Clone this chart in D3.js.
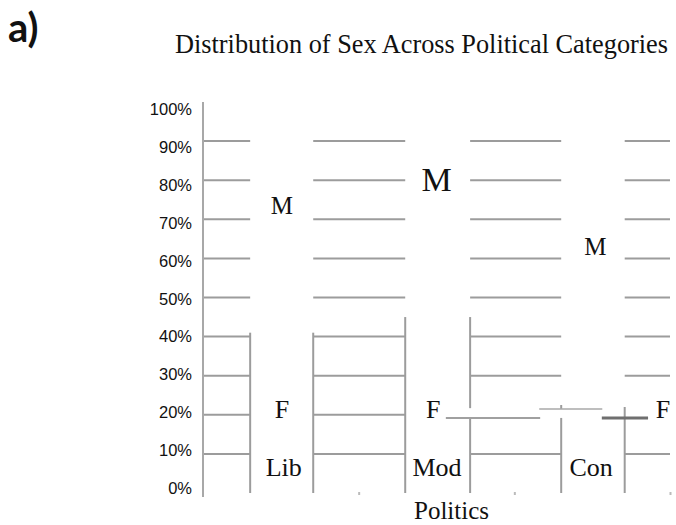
<!DOCTYPE html>
<html>
<head>
<meta charset="utf-8">
<script src="https://cdn.jsdelivr.net/npm/d3@7"></script>
<style>
  html, body { margin: 0; padding: 0; background: #fff; }
  svg { display: block; }
</style>
</head>
<body>
<svg id="chart" width="676" height="525"></svg>
<script>
// ---------------- data ----------------
const categories = ["Lib", "Mod", "Con"];
// mosaic columns (cumulative share on the x axis)
const colLeft  = [0.101, 0.433, 0.767];
const colRight = [0.236, 0.572, 0.903];
// share of each column that is female (left / right border heights)
const femaleLeft  = [0.41, 0.45, 0.192];
const femaleRight = [0.41, 0.45, 0.22];
// extra broken border pieces
const edgeX  = [0.572, 0.767];
const edgeLo = [0.217, 0.215];
const edgeHi = [0.45, 0.225];
// stepped female boundary
const stepStart = [0.520, 0.720, 0.854];
const stepEnd   = [0.722, 0.855, 0.953];
const stepY     = [0.192, 0.215, 0.192];
// labels
const mLabelX = [0.169, 0.500, 0.840];
const mLabelY = [0.735, 0.80, 0.63];
const fLabelX = [0.169, 0.493, 0.985];
const fLabelY = [0.215, 0.215, 0.215];
const catLabelY = [0.065, 0.065, 0.065];
const catLabelX = [0.173, 0.501, 0.831];
const yTicks = [0, 0.1, 0.2, 0.3, 0.4, 0.5, 0.6, 0.7, 0.8, 0.9, 1.0];
const gridTicks = [0.1, 0.2, 0.3, 0.4, 0.5, 0.6, 0.7, 0.8, 0.9];
const gridHidden = [[0.2, 2], [0.2, 3]];
const xTicks = [1/3, 2/3, 1];
const title = "Distribution of Sex Across Political Categories";
const xTitle = "Politics";
const panelTag = "a)";

// ---------------- drawing ----------------
const svg = d3.select("#chart");
const x = d3.scaleLinear().domain([0, 1]).range([203, 670]);
const yGrid = d3.scaleLinear().domain([0, 1]).range([493, 102]);
const yLabel = d3.scaleLinear().domain([0, 1]).range([488, 109.5]);

const gridColor = "#9c9c9c";
const serif = "'Liberation Serif', 'Times New Roman', serif";

// gap segments between columns
const gapStart = [0, ...colRight];
const gapEnd = [...colLeft, 1];

const grid = svg.append("g");
gridTicks.forEach(t => {
  gapStart.forEach((g0, i) => {
    if (gridHidden.some(h => Math.abs(h[0] - t) < 1e-9 && h[1] === i)) return;
    grid.append("line")
      .attr("x1", x(g0)).attr("x2", x(gapEnd[i]))
      .attr("y1", yGrid(t)).attr("y2", yGrid(t))
      .attr("stroke", gridColor).attr("stroke-width", 2);
  });
});

// column borders
const borders = svg.append("g");
categories.forEach((c, i) => {
  borders.append("line")
    .attr("x1", x(colLeft[i])).attr("x2", x(colLeft[i]))
    .attr("y1", yGrid(0)).attr("y2", yGrid(femaleLeft[i]))
    .attr("stroke", gridColor).attr("stroke-width", 2);
  borders.append("line")
    .attr("x1", x(colRight[i])).attr("x2", x(colRight[i]))
    .attr("y1", yGrid(0)).attr("y2", yGrid(i === 1 ? stepY[0] : femaleRight[i]))
    .attr("stroke", gridColor).attr("stroke-width", 2);
});
edgeX.forEach((e, i) => {
  borders.append("line")
    .attr("x1", x(e)).attr("x2", x(e))
    .attr("y1", yGrid(edgeLo[i])).attr("y2", yGrid(edgeHi[i]))
    .attr("stroke", gridColor).attr("stroke-width", 2);
});

// stepped boundary
const stepStyle = [
  { c: "#a0a0a0", w: 2 },
  { c: "#a8a8a8", w: 1.6 },
  { c: "#6f6f6f", w: 3 }
];
stepY.forEach((v, i) => {
  svg.append("line")
    .attr("x1", x(stepStart[i])).attr("x2", x(stepEnd[i]))
    .attr("y1", yGrid(v)).attr("y2", yGrid(v))
    .attr("stroke", stepStyle[i].c).attr("stroke-width", stepStyle[i].w);
});

// y axis line
svg.append("line")
  .attr("x1", x(0)).attr("x2", x(0))
  .attr("y1", yGrid(1)).attr("y2", yGrid(0) + 4)
  .attr("stroke", "#a8a8a8").attr("stroke-width", 2);

// y axis labels
const yAxis = d3.axisLeft(yLabel).tickValues(yTicks).tickSize(0).tickPadding(0)
  .tickFormat(d3.format(".0%"));
const ya = svg.append("g").attr("transform", "translate(192,0)").call(yAxis);
ya.select(".domain").remove();
ya.selectAll("text")
  .attr("font-family", "'Liberation Sans', Arial, sans-serif")
  .attr("font-size", 16.5).attr("fill", "#111");

// x axis small ticks
const xAxis = d3.axisBottom(x).tickValues(xTicks).tickSize(3).tickFormat("");
const xa = svg.append("g").attr("transform", `translate(0,${yGrid(0) - 1})`).call(xAxis);
xa.select(".domain").remove();
xa.selectAll("line").attr("stroke", "#bbbbbb").attr("stroke-width", 2);

// M labels
const mSizes = [25, 34, 25];
mLabelX.forEach((mx, i) => {
  svg.append("text")
    .attr("x", x(mx)).attr("y", yGrid(mLabelY[i]))
    .attr("dy", "0.33em")
    .attr("text-anchor", "middle")
    .attr("font-family", serif).attr("font-size", mSizes[i]).attr("fill", "#111")
    .text("M");
});
// F labels
fLabelX.forEach((fx, i) => {
  svg.append("text")
    .attr("x", x(fx)).attr("y", yGrid(fLabelY[i]))
    .attr("dy", "0.33em")
    .attr("text-anchor", "middle")
    .attr("font-family", serif).attr("font-size", 26).attr("fill", "#111")
    .text("F");
});
// category labels
categories.forEach((c, i) => {
  svg.append("text")
    .attr("x", x(catLabelX[i])).attr("y", yGrid(catLabelY[i]))
    .attr("dy", "0.33em")
    .attr("text-anchor", "middle")
    .attr("font-family", serif).attr("font-size", 26).attr("fill", "#111")
    .text(c);
});

// axis title
svg.append("text")
  .attr("x", 451.5).attr("y", 519)
  .attr("text-anchor", "middle")
  .attr("font-family", serif).attr("font-size", 25).attr("fill", "#111")
  .text(xTitle);

// chart title
svg.append("text")
  .attr("x", 175).attr("y", 53)
  .attr("font-family", serif).attr("font-size", 26.3).attr("fill", "#111")
  .text(title);

// panel tag
svg.append("text")
  .attr("x", 8).attr("y", 42)
  .attr("font-family", "Lato, 'Open Sans', sans-serif").attr("font-weight", "bold")
  .attr("font-size", 40).attr("fill", "#111")
  .text(panelTag);
</script>
</body>
</html>
